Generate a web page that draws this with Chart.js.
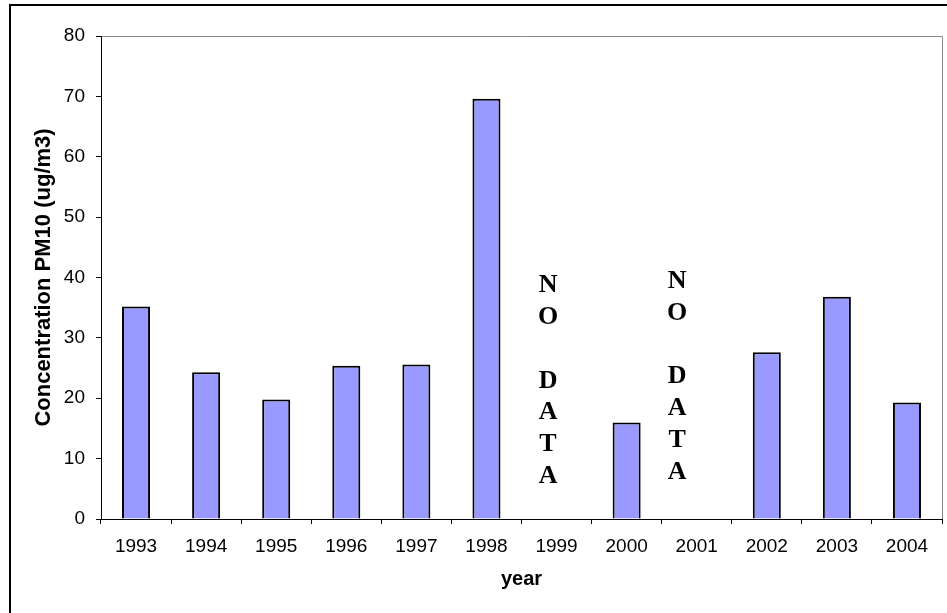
<!DOCTYPE html>
<html>
<head>
<meta charset="utf-8">
<script src="https://cdn.jsdelivr.net/npm/chart.js@4/dist/chart.umd.min.js"></script>
<style>
  html, body { margin: 0; padding: 0; background: #fff; }
  #wrap { width: 947px; height: 613px; position: relative; }
</style>
</head>
<body>
<div id="wrap"><canvas id="c" width="947" height="613"></canvas></div>
<script>
// Annual mean PM10 concentration by year (ug/m3); null = no measurement
const years = ['1993','1994','1995','1996','1997','1998','1999','2000','2001','2002','2003','2004'];
const pm10 = [35.2, 24.3, 19.8, 25.4, 25.6, 69.6, null, 16.0, null, 27.6, 36.8, 19.3];
const yTicks = [0, 10, 20, 30, 40, 50, 60, 70, 80];
const noDataYears = ['1999', '2001'];
const noDataLines = ['N', 'O', '', 'D', 'A', 'T', 'A'];

Chart.defaults.color = '#000';
Chart.defaults.font.family = "'Liberation Sans', Arial, sans-serif";

// outer frame plus the grey top/right edges of the plot area
const framePlugin = {
  id: 'frame',
  beforeDraw(chart) {
    const ctx = chart.ctx;
    const a = chart.chartArea;
    ctx.save();
    ctx.fillStyle = '#fff';
    ctx.fillRect(0, 0, chart.width, chart.height);
    ctx.fillStyle = '#000';
    ctx.fillRect(9, 4, 2, chart.height - 4);
    ctx.fillRect(9, 4, chart.width - 9, 2);
    ctx.strokeStyle = '#8c8c8c';
    ctx.lineWidth = 1;
    ctx.beginPath();
    ctx.moveTo(a.left, a.top + 0.5);
    ctx.lineTo(a.right + 0.5, a.top + 0.5);
    ctx.lineTo(a.right + 0.5, a.bottom);
    ctx.stroke();
    ctx.restore();
  }
};

// vertical "NO DATA" notes for the missing years
const noDataPlugin = {
  id: 'noData',
  afterDatasetsDraw(chart) {
    const ctx = chart.ctx;
    const x = chart.scales.x;
    const top = chart.chartArea.top;
    const shifts = [-8.5, -19.5];
    const starts = [249.5, 245];
    const step = 31.8;
    ctx.save();
    ctx.font = "bold 26px 'Liberation Serif', 'Times New Roman', serif";
    ctx.fillStyle = '#000';
    ctx.textAlign = 'center';
    ctx.textBaseline = 'middle';
    noDataYears.forEach((yr, k) => {
      const cx = x.getPixelForValue(years.indexOf(yr)) + shifts[k];
      noDataLines.forEach((ch, i) => {
        if (ch) ctx.fillText(ch, cx, top + starts[k] + i * step);
      });
    });
    ctx.restore();
  }
};

new Chart(document.getElementById('c'), {
  type: 'bar',
  data: {
    labels: years,
    datasets: [{
      data: pm10,
      backgroundColor: '#9999ff',
      borderColor: '#000',
      borderWidth: 2,
      barPercentage: 0.4,
      categoryPercentage: 1.0
    }]
  },
  options: {
    responsive: false,
    animation: false,
    devicePixelRatio: 1,
    layout: { padding: { top: 36, right: 5, bottom: 0, left: 0 } },
    plugins: {
      legend: { display: false },
      tooltip: { enabled: false }
    },
    scales: {
      x: {
        offset: true,
        grid: { offset: true, drawOnChartArea: false, drawTicks: true, tickLength: 5, color: '#000' },
        border: { color: '#000', width: 1 },
        ticks: { font: { size: 19 }, padding: 11, maxRotation: 0, autoSkip: false },
        title: { display: true, text: 'year', font: { size: 20, weight: 'bold' }, padding: { top: 0, bottom: 22 } },
        afterFit(s) { s.height = 94; }
      },
      y: {
        min: 0,
        max: 80,
        afterBuildTicks(s) { s.ticks = yTicks.map(v => ({ value: v })); },
        grid: { drawOnChartArea: false, drawTicks: true, tickLength: 5, color: '#000' },
        border: { color: '#000', width: 1 },
        ticks: { font: { size: 19 }, padding: 11 },
        title: { display: true, text: 'Concentration PM10 (ug/m3)', font: { size: 22, weight: 'bold' }, padding: { top: 31, bottom: 0 } },
        afterFit(s) { s.width = 101; }
      }
    }
  },
  plugins: [framePlugin, noDataPlugin]
});
</script>
</body>
</html>
